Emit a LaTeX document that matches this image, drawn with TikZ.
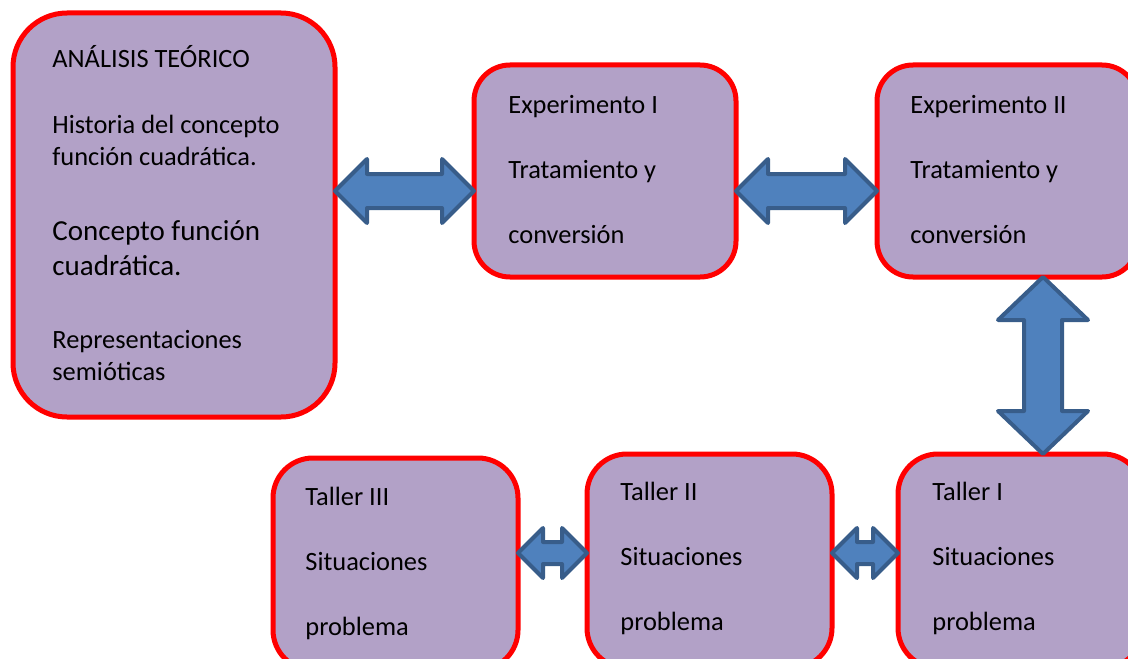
\documentclass[tikz,border=0pt]{standalone}
\usepackage{fontspec}
\setmainfont{Carlito}
\usetikzlibrary{fit,calc}
\definecolor{lila}{HTML}{B2A1C7}
\definecolor{azul}{HTML}{4F81BD}
\definecolor{azuloscuro}{HTML}{385D8A}

\begin{document}
\begin{tikzpicture}[x=0.5pt,y=-0.5pt,
		caja/.style={draw=red,line width=2.5pt,fill=lila,rounded corners=#1,inner sep=0pt,outer sep=0pt},
		texto/.style={anchor=base west,align=left,inner sep=0pt,font=\fontsize{13.2}{16}\selectfont},
		grande/.style={texto,font=\fontsize{14.5}{17.5}\selectfont},
		hflecha/.style n args={3}{draw=azuloscuro,fill=azul,line width=2pt,line join=round,
			to path={let \p1=(\tikztostart),\p2=(\tikztotarget) in
				-- (\x1+#1,\y1+#2) -- (\x1+#1,\y1+#3) -- (\x2-#1,\y1+#3) -- (\x2-#1,\y1+#2) -- (\x2,\y1)
				-- (\x2-#1,\y1-#2) -- (\x2-#1,\y1-#3) -- (\x1+#1,\y1-#3) -- (\x1+#1,\y1-#2) -- cycle}},
		vflecha/.style n args={3}{draw=azuloscuro,fill=azul,line width=2pt,line join=round,
			to path={let \p1=(\tikztostart),\p2=(\tikztotarget) in
				-- (\x1+#2,\y1-#1) -- (\x1+#3,\y1-#1) -- (\x1+#3,\y2+#1) -- (\x1+#2,\y2+#1) -- (\x1,\y2)
				-- (\x1-#2,\y2+#1) -- (\x1-#3,\y2+#1) -- (\x1-#3,\y1-#1) -- (\x1-#2,\y1-#1) -- cycle}}]
		\useasboundingbox (0,0) rectangle (1128,658);
		\clip (0,0) rectangle (1128,658);
		% cajas
		\node[caja=27pt,fit={(13,13) (335,417)}] (analisis) {};
		\node[caja=18pt,fit={(474,65) (736,277)}] (exp1) {};
		\node[caja=18pt,fit={(877,65) (1138,277)}] (exp2) {};
		\node[caja=20pt,fit={(273,458) (518,670)}] (taller3) {};
		\node[caja=20pt,fit={(587,454) (832,668)}] (taller2) {};
		\node[caja=20pt,fit={(898,454) (1143,668)}] (taller1) {};
		% textos (base = ultima linea)
		\node[texto] (titulo) at ($(analisis.north west)+(39,55)$) {ANÁLISIS TEÓRICO};
		\node[texto] (historia) at ($(analisis.north west)+(39,152)$) {Historia del concepto\\función cuadrática.};
		\node[grande] (concepto) at ($(analisis.north west)+(39,262)$) {Concepto función\\cuadrática.};
		\node[texto] (repres) at ($(analisis.north west)+(39,367)$) {Representaciones\\semióticas};
		\node[texto] (t-exp1) at ($(exp1.north west)+(34,178)$) {Experimento I\\[16.5pt]Tratamiento y\\[16.5pt]conversión};
		\node[texto] (t-exp2) at ($(exp2.north west)+(33,178)$) {Experimento II\\[16.5pt]Tratamiento y\\[16.5pt]conversión};
		\node[texto] (t-taller3) at ($(taller3.north west)+(32,177)$) {Taller III\\[16.5pt]Situaciones\\[16.5pt]problema};
		\node[texto] (t-taller2) at ($(taller2.north west)+(33,176)$) {Taller II\\[16.5pt]Situaciones\\[16.5pt]problema};
		\node[texto] (t-taller1) at ($(taller1.north west)+(34,176)$) {Taller I\\[16.5pt]Situaciones\\[16.5pt]problema};
		% flechas
		\coordinate (f1) at (0,191);
		\coordinate (f2) at (1043,0);
		\coordinate (f3) at (0,553);
		\draw[hflecha={16pt}{16pt}{8.5pt}] (analisis.east |- f1) to (exp1.west |- f1);
		\draw[hflecha={16pt}{16pt}{8.5pt}] (exp1.east |- f1) to (exp2.west |- f1);
		\draw[vflecha={21.5pt}{22.5pt}{9.5pt}] (exp2.south -| f2) to (taller1.north -| f2);
		\draw[hflecha={12.5pt}{12.5pt}{5.5pt}] (taller3.east |- f3) to (taller2.west |- f3);
		\draw[hflecha={12.5pt}{12.5pt}{5.5pt}] (taller2.east |- f3) to (taller1.west |- f3);
\end{tikzpicture}
\end{document}
